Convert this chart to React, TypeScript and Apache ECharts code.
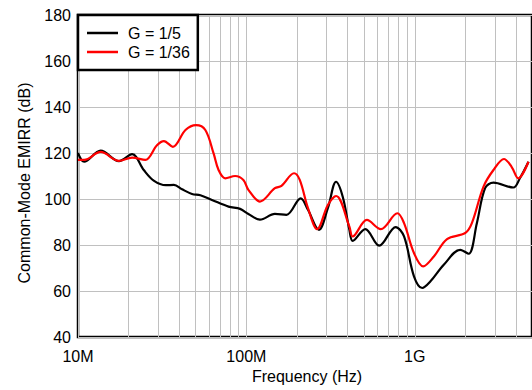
import React, { useEffect, useRef } from "react";
import * as echarts from "echarts";

// G = 1/5 (black)
const freqMHzG5 = [10, 10.88, 13.63, 17.51, 20.97, 24.58, 28.16, 33.27, 37.09, 41.52, 47.56, 53.32, 62.42, 78.31, 91.8, 102.8, 120.4, 147.7, 172.9, 210.2, 232.2, 269.7, 304.7, 341, 373.5, 409.1, 427.9, 508.4, 615, 770.4, 863.8, 989.3, 1107, 1240, 1487, 1863, 2089, 2338, 2617, 2934, 3848, 4209, 4738];
const emirrG5 = [120, 116.2, 121, 116.5, 119.5, 112.6, 108, 106, 106.1, 104.2, 102.2, 101.6, 99.6, 96.7, 95.7, 93.5, 91, 93.5, 93.1, 100.3, 95.3, 86.6, 96, 107.5, 101, 86.6, 81.8, 86.9, 79.7, 87.8, 83.7, 66.4, 61.3, 64.2, 71.4, 77.9, 76.2, 89.5, 104.7, 107.1, 105, 109, 116.2];

// G = 1/36 (red)
const freqMHzG36 = [10, 10.88, 13.63, 17.51, 20.97, 25.12, 29.44, 32.38, 36.59, 43.48, 50.23, 57.05, 63.87, 68.36, 74.86, 85.78, 96, 102.8, 120.4, 147.7, 161.6, 191.9, 207.5, 232.2, 263.4, 304.7, 341, 409.1, 427.9, 519.6, 628.4, 788.6, 863.8, 989.3, 1122, 1298, 1555, 1994, 2184, 2561, 2934, 3387, 3759, 4118, 4738];
const emirrG36 = [117, 117, 120.5, 116.6, 118, 117, 123.4, 125.2, 122.7, 130, 132.1, 130, 119.8, 112.6, 109, 110, 108.3, 104, 98.9, 104.7, 105.7, 111.2, 108.3, 96, 86.9, 97.4, 101.3, 88, 83.7, 90.9, 86.9, 93.8, 89.5, 76.5, 70.7, 75, 82.6, 85.2, 89.5, 105.4, 112.6, 117.4, 114, 109, 116.2];

const xTickValues = [1e7, 1e8, 1e9];
const xTickTexts = ["10M", "100M", "1G"];
const minorGridHz = [2e7, 3e7, 4e7, 5e7, 6e7, 7e7, 8e7, 9e7, 2e8, 3e8, 4e8, 5e8, 6e8, 7e8, 8e8, 9e8, 2e9, 3e9, 4e9];
const seriesNames = ["G = 1/5", "G = 1/36"];

const FONT = "'Liberation Sans', Arial, sans-serif";

export default function App() {
  const ref = useRef<HTMLDivElement>(null);
  useEffect(() => {
    document.body.style.margin = "0";
    const chart = echarts.init(ref.current!, null, { renderer: "svg" });
    const toPairs = (f: number[], v: number[]) => f.map((x, i) => [x * 1e6, v[i]]);
    chart.setOption({
      animation: false,
      textStyle: { fontFamily: FONT },
      grid: {
        left: 78,
        top: 15,
        right: -3,
        bottom: 53,
        show: true,
        borderColor: "#000",
        borderWidth: 2.5,
        backgroundColor: "transparent",
      },
      legend: {
        orient: "vertical",
        left: 78,
        top: 15,
        padding: [10, 8, 10, 9],
        itemGap: 3,
        itemWidth: 31,
        itemHeight: 2.5,
        icon: "rect",
        borderColor: "#000",
        borderWidth: 2.5,
        backgroundColor: "#fff",
        data: seriesNames,
        textStyle: { fontSize: 16, color: "#000", fontFamily: FONT, padding: [0, 0, 0, 5], lineHeight: 16 },
      },
      xAxis: {
        type: "log",
        logBase: 10,
        min: 1e7,
        max: 4.97e9,
        name: "Frequency (Hz)",
        nameLocation: "middle",
        nameGap: 25,
        nameTextStyle: { fontSize: 16, color: "#000", fontFamily: FONT, padding: [0, 0, 0, 4] },
        axisLine: { show: false },
        axisTick: { show: false },
        axisLabel: {
          fontSize: 16,
          color: "#000",
          margin: 11,
          fontFamily: FONT,
          showMaxLabel: false,
          formatter: (v: number) => {
            const i = xTickValues.findIndex((t) => Math.abs(t - v) / t < 1e-6);
            return i >= 0 ? xTickTexts[i] : "";
          },
        },
        splitLine: { show: true, lineStyle: { color: "#c0c0c0", width: 1 } },
      },
      yAxis: {
        type: "value",
        min: 40,
        max: 180,
        interval: 20,
        name: "Common-Mode EMIRR (dB)",
        nameLocation: "middle",
        nameGap: 46,
        nameTextStyle: { fontSize: 16, color: "#000", fontFamily: FONT, padding: [0, 14, 0, 0] },
        axisLine: { show: false },
        axisTick: { show: false },
        axisLabel: { fontSize: 16, color: "#000", margin: 7, fontFamily: FONT },
        splitLine: { show: true, lineStyle: { color: "#c0c0c0", width: 1 } },
      },
      series: [
        {
          name: seriesNames[0],
          type: "line",
          data: toPairs(freqMHzG5, emirrG5),
          smooth: 0.35,
          symbol: "none",
          lineStyle: { color: "#000", width: 2.2 },
          itemStyle: { color: "#000" },
          z: 3,
          markLine: {
            silent: true,
            symbol: "none",
            label: { show: false },
            lineStyle: { color: "#c0c0c0", width: 1, type: "solid" },
            data: minorGridHz.map((v) => ({ xAxis: v })),
            z: 1,
          },
        },
        {
          name: seriesNames[1],
          type: "line",
          data: toPairs(freqMHzG36, emirrG36),
          smooth: 0.35,
          symbol: "none",
          lineStyle: { color: "#ff0000", width: 2.2 },
          itemStyle: { color: "#ff0000" },
          z: 4,
        },
      ],
    });
    return () => chart.dispose();
  }, []);
  return <div ref={ref} style={{ width: 532, height: 390 }} />;
}
